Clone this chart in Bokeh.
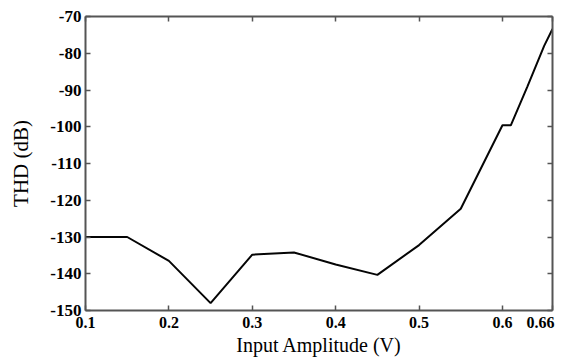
from bokeh.plotting import figure
from bokeh.models import Range1d, LinearAxis, FixedTicker
from bokeh.embed import file_html
from bokeh.resources import INLINE

# data
amplitude = [0.1, 0.15, 0.2, 0.25, 0.3, 0.35, 0.4, 0.45, 0.5, 0.55, 0.6, 0.61, 0.63, 0.65, 0.66]
thd_db = [-130, -130, -136.5, -148, -134.8, -134.2, -137.5, -140.3, -132.2, -122.3, -99.6, -99.6, -89, -78, -73.4]
x_ticks = [0.1, 0.2, 0.3, 0.4, 0.5, 0.6, 0.66]
x_tick_labels = ["0.1", "0.2", "0.3", "0.4", "0.5", "0.6", "0.66\u00a0\u00a0\u00a0"]
y_ticks = [-150, -140, -130, -120, -110, -100, -90, -80, -70]
y_tick_labels = ["-150", "-140", "-130", "-120", "-110", "-100", "-90", "-80", "-70"]

FONT = "Liberation Serif"
SPINE = "#555555"

p = figure(width=566, height=358, output_backend="svg", toolbar_location=None,
           x_range=Range1d(0.1, 0.66), y_range=Range1d(-150, -70),
           min_border_left=85, min_border_right=14, min_border_top=16, min_border_bottom=46,
           x_axis_location=None, y_axis_location=None)
p.outline_line_color = None
p.xgrid.visible = False
p.ygrid.visible = False
p.background_fill_color = "white"
p.border_fill_color = "white"

def style(ax, ticks, labels):
    ax.ticker = FixedTicker(ticks=ticks)
    ax.axis_line_color = SPINE
    ax.axis_line_width = 2
    ax.major_tick_line_color = SPINE
    ax.major_tick_line_width = 1.5
    ax.major_tick_in = 5
    ax.major_tick_out = 0
    ax.minor_tick_line_color = None
    ax.major_label_text_font = FONT
    ax.major_label_text_font_style = "bold"
    ax.major_label_text_color = "black"
    if labels is not None:
        ax.major_label_overrides = {t: s for t, s in zip(ticks, labels)}
        ax.major_label_text_font_size = "17px"
        ax.major_label_standoff = 4
    else:
        ax.major_label_overrides = {t: "" for t in ticks}
        ax.major_label_text_font_size = "1px"
        ax.major_label_standoff = 0
    ax.axis_label_text_font = FONT
    ax.axis_label_text_font_style = "normal"
    ax.axis_label_text_font_size = "21px"
    ax.axis_label_text_color = "black"

xb = LinearAxis(axis_label="Input Amplitude (V)")
style(xb, x_ticks, x_tick_labels)
xb.major_label_text_font_size = "16px"
xb.axis_label_text_font_size = "20px"
xb.major_label_standoff = 3
xb.axis_label_standoff = 0
p.add_layout(xb, "below")

yl = LinearAxis(axis_label="THD (dB)")
style(yl, y_ticks, y_tick_labels)
yl.axis_label_standoff = 14
p.add_layout(yl, "left")

xt = LinearAxis()
style(xt, x_ticks, None)
p.add_layout(xt, "above")

yr = LinearAxis()
style(yr, y_ticks, None)
p.add_layout(yr, "right")

p.line(amplitude, thd_db, line_color="#050505", line_width=2)

open("out.html", "w").write(file_html(p, INLINE))
